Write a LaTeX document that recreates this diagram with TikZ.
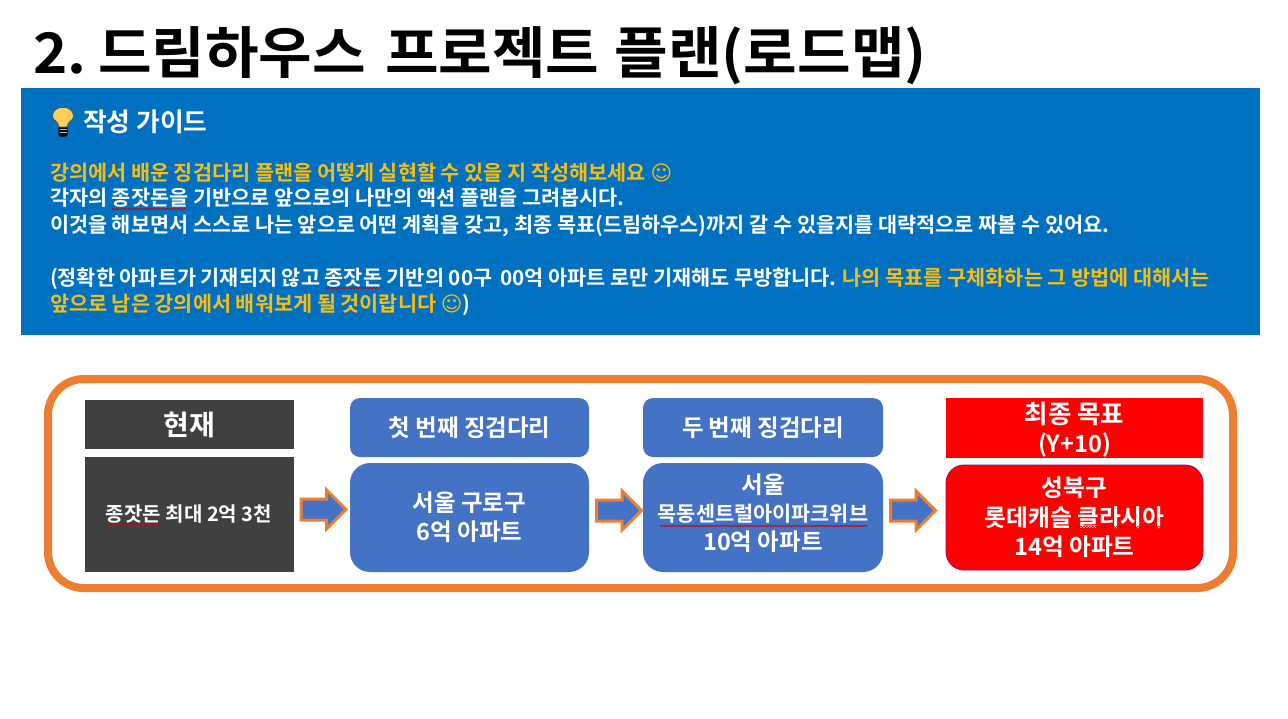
\documentclass[tikz,border=0pt]{standalone}
\usepackage{fontspec}
\usetikzlibrary{shapes.arrows,decorations.pathmorphing}
\setmainfont{Noto Sans CJK KR}[BoldFont=* Bold]
\newfontfamily\titlefont{Noto Sans CJK KR Bold}[FakeStretch=1.04]
\newfontfamily\symfont{DejaVu Sans}
\definecolor{band}{HTML}{0070C0}
\definecolor{frameor}{HTML}{ED7D31}
\definecolor{darkbox}{HTML}{404040}
\definecolor{bluebox}{HTML}{4472C4}
\definecolor{guideyellow}{HTML}{F7BE12}
\definecolor{bulbcol}{HTML}{FFCF5A}
\newcommand{\smileyface}{{\symfont\char"263A}}
\tikzset{
  x=1pt,y=-1pt,
  txtline/.style={anchor=base west,inner sep=0pt,outer sep=0pt,text=white,font=\bfseries\fontsize{20.75}{24}\selectfont},
  boxbase/.style={inner sep=0pt,outer sep=0pt,text=white,align=center},
  darkrect/.style={boxbase,fill=darkbox},
  bluerect/.style={boxbase,fill=bluebox,rounded corners=#1},
  redrect/.style={boxbase,fill=red},
  blockarrow/.style={shape=single arrow,anchor=west,single arrow head extend=9pt,single arrow head indent=0pt,inner xsep=0pt,inner ysep=9pt,outer sep=0pt,minimum height=45pt,fill=bluebox,draw=frameor,line width=3pt,miter limit=4},
  spell/.style={draw=red!80!black,line width=0.7pt,decorate,decoration={snake,amplitude=0.7pt,segment length=3pt}},
}
\begin{document}
\begin{tikzpicture}
\useasboundingbox (0,0) rectangle (1288,718);
\fill[white] (0,0) rectangle (1288,718);
\node[anchor=base west,inner sep=0pt,font=\titlefont\fontsize{56}{60}\selectfont,text=black] (title) at (33,73) {2.\hspace{-6pt} 드림하우스\hspace{6pt} 프로젝트\hspace{2pt} 플랜(로드맵)};
\node[anchor=north west,inner sep=0pt,outer sep=0pt,fill=band,minimum width=1239pt,minimum height=247pt] (guide) at (21,88) {};
% bulb
\fill[black,rounded corners=2pt] (58.5,125) rectangle (67.5,136.5);
\draw[white!75!black,line width=1pt] (59.5,129) -- (66.5,129) (59.5,132) -- (66.5,132);
\fill[bulbcol,draw=black!70,line width=0.6pt] (59,127) .. controls (59,121) and (52.5,121) .. (52.5,116) .. controls (52.5,104.5) and (73.5,104.5) .. (73.5,116) .. controls (73.5,121) and (67,121) .. (67,127) -- cycle;
\node[txtline,font=\bfseries\fontsize{25.8}{30}\selectfont] (head) at (83,131) {작성 가이드};
\node[txtline,text=guideyellow] (l1) at (50,180.5) {강의에서 배운 징검다리 플랜을 어떻게 실현할 수 있을 지 작성해보세요 \smileyface};
\node[txtline] (l2) at (50,205) {각자의 종잣돈을 기반으로 앞으로의 나만의 액션 플랜을 그려봅시다.};
\node[txtline] (l3) at (50,232) {이것을 해보면서 스스로 나는 앞으로 어떤 계획을 갖고, 최종 목표(드림하우스)까지 갈 수 있을지를 대략적으로 짜볼 수 있어요.};
\node[txtline] (l4) at (50,285) {(정확한 아파트가 기재되지 않고 종잣돈 기반의 00구\hspace{3pt} 00억 아파트 로만 기재해도 무방합니다\textcolor{white}{.} \textcolor{guideyellow}{나의 목표를 구체화하는 그 방법에 대해서는}};
\node[txtline,text=guideyellow] (l5) at (50,311) {앞으로 남은 강의에서 배워보게 될 것이랍니다 \smileyface\textcolor{white}{)}};
\draw[spell] (112,209) -- (186,209);
\draw[spell] (325,288) -- (380,288);
% frame
\draw[frameor,line width=8pt,rounded corners=36pt] (48,379) rectangle (1233,588);
\node[darkrect,minimum width=209pt,minimum height=49pt,font=\bfseries\fontsize{28}{32}\selectfont] (now) at (189,424.5) {현재};
\node[darkrect,minimum width=209pt,minimum height=115pt,font=\bfseries\fontsize{20}{24}\selectfont] (seed) at (189,514.5) {종잣돈 최대 2억 3천};
\node[bluerect=10pt,minimum width=239pt,minimum height=59pt,font=\bfseries\fontsize{23.5}{28}\selectfont] (s1h) at (469.5,427.5) {첫 번째 징검다리};
\node[bluerect=20pt,minimum width=239pt,minimum height=109pt,font=\bfseries\fontsize{23.5}{29}\selectfont] (s1) at (469.5,517.5) {서울 구로구\\6억 아파트};
\node[bluerect=10pt,minimum width=240pt,minimum height=59pt,font=\bfseries\fontsize{23.5}{28}\selectfont] (s2h) at (763,427.5) {두 번째 징검다리};
\node[bluerect=20pt,minimum width=240pt,minimum height=109pt,font=\bfseries\fontsize{23.5}{28}\selectfont] (s2) at (763,517.5) {서울\\{\fontsize{20.8}{28}\selectfont 목동센트럴아이파크위브}\\[1pt]10억 아파트\rule[-10pt]{0pt}{10pt}};
\node[redrect,minimum width=257pt,minimum height=60pt,font=\bfseries\fontsize{23.5}{29}\selectfont] (goalh) at (1074.5,428) {\rule{0pt}{25pt}{\fontsize{25.5}{29}\selectfont 최종 목표}\\(Y+10)};
\node[boxbase,fill=red,draw=red!60!blue,line width=0.8pt,rounded corners=18pt,minimum width=257pt,minimum height=105pt,font=\bfseries\fontsize{23.7}{29.5}\selectfont] (goal) at (1074.5,517.5) {성북구\\롯데캐슬 클라시아\\14억 아파트};
\node[blockarrow] (a1) at (301,509.5) {};
\node[blockarrow] (a2) at (596.5,510.5) {};
\node[blockarrow] (a3) at (890.5,510.5) {};
\draw[spell] (105,524) -- (161,524);
\draw[spell] (660,526) -- (867,526);
\draw[spell] (1077,527) -- (1163,527);
\end{tikzpicture}
\end{document}
